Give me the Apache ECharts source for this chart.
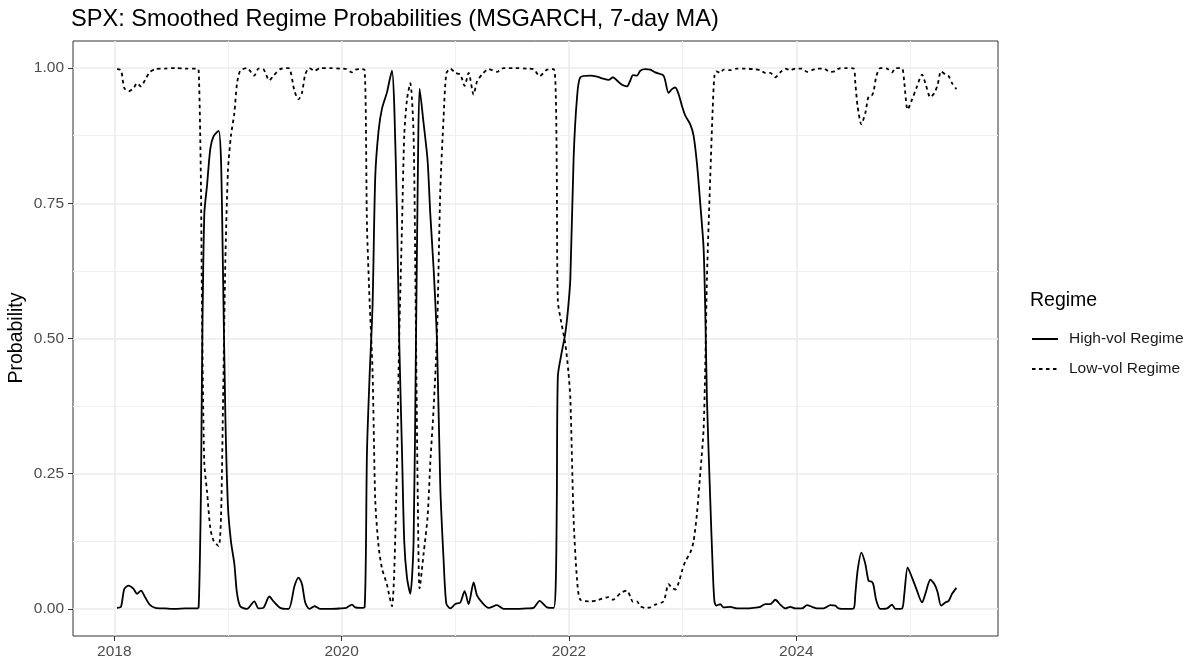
<!DOCTYPE html>
<html>
<head>
<meta charset="utf-8">
<title>SPX regime probabilities</title>
<script src="https://cdn.jsdelivr.net/npm/echarts@6/dist/echarts.min.js"></script>
<style>
    html, body { margin: 0; padding: 0; background: #fff; }
    #main { width: 1195px; height: 664px; }
</style>
</head>
<body>
<div id="main"></div>
<script>
// decimal years
var dates = [
    2018.024, 2018.059, 2018.088, 2018.126, 2018.170, 2018.200, 2018.235, 2018.273, 2018.311, 2018.361,
    2018.449, 2018.537, 2018.625, 2018.728, 2018.742, 2018.754, 2018.763, 2018.774, 2018.792, 2018.816,
    2018.845, 2018.874, 2018.918, 2018.939, 2018.956, 2018.977, 2019.000, 2019.027, 2019.056, 2019.079,
    2019.108, 2019.167, 2019.232, 2019.269, 2019.311, 2019.364, 2019.401, 2019.460, 2019.533, 2019.586,
    2019.621, 2019.651, 2019.680, 2019.716, 2019.762, 2019.812, 2019.900, 2019.988, 2020.041, 2020.091,
    2020.120, 2020.164, 2020.202, 2020.223, 2020.246, 2020.272, 2020.296, 2020.325, 2020.355, 2020.399,
    2020.422, 2020.443, 2020.463, 2020.487, 2020.507, 2020.531, 2020.551, 2020.575, 2020.604, 2020.633,
    2020.654, 2020.672, 2020.686, 2020.721, 2020.756, 2020.780, 2020.809, 2020.839, 2020.868, 2020.897,
    2020.921, 2020.956, 2021.000, 2021.044, 2021.082, 2021.117, 2021.161, 2021.191, 2021.235, 2021.293,
    2021.367, 2021.425, 2021.528, 2021.633, 2021.689, 2021.742, 2021.807, 2021.865, 2021.884, 2021.893,
    2021.902, 2021.932, 2021.968, 2021.994, 2022.012, 2022.041, 2022.071, 2022.100, 2022.188, 2022.247,
    2022.291, 2022.349, 2022.387, 2022.422, 2022.466, 2022.510, 2022.539, 2022.563, 2022.598, 2022.627,
    2022.671, 2022.715, 2022.759, 2022.832, 2022.876, 2022.906, 2022.935, 2022.964, 2022.994, 2023.023,
    2023.067, 2023.096, 2023.126, 2023.155, 2023.184, 2023.199, 2023.214, 2023.243, 2023.264, 2023.279,
    2023.296, 2023.331, 2023.360, 2023.419, 2023.478, 2023.551, 2023.624, 2023.683, 2023.727, 2023.771,
    2023.815, 2023.859, 2023.903, 2023.947, 2023.991, 2024.050, 2024.094, 2024.138, 2024.182, 2024.240,
    2024.299, 2024.343, 2024.372, 2024.440, 2024.504, 2024.519, 2024.539, 2024.572, 2024.607, 2024.636,
    2024.666, 2024.680, 2024.704, 2024.739, 2024.798, 2024.842, 2024.871, 2024.930, 2024.950, 2024.979,
    2025.018, 2025.056, 2025.106, 2025.135, 2025.179, 2025.214, 2025.243, 2025.273, 2025.311, 2025.340,
    2025.370, 2025.408
];
// high-vol regime probability
var highVol = [
    0.002, 0.004, 0.037, 0.043, 0.037, 0.028, 0.034, 0.021, 0.008, 0.002,
    0.001, 0.000, 0.001, 0.001, 0.003, 0.100, 0.226, 0.490, 0.730, 0.783,
    0.851, 0.874, 0.884, 0.830, 0.630, 0.360, 0.190, 0.124, 0.084, 0.030,
    0.005, 0.000, 0.014, 0.001, 0.002, 0.023, 0.014, 0.002, 0.000, 0.043,
    0.058, 0.046, 0.012, 0.000, 0.005, 0.000, 0.000, 0.001, 0.002, 0.008,
    0.003, 0.002, 0.003, 0.290, 0.430, 0.560, 0.800, 0.884, 0.925, 0.955,
    0.978, 0.995, 0.931, 0.730, 0.494, 0.293, 0.124, 0.058, 0.028, 0.124,
    0.494, 0.830, 0.962, 0.898, 0.830, 0.730, 0.630, 0.494, 0.226, 0.091,
    0.010, 0.001, 0.009, 0.012, 0.033, 0.009, 0.049, 0.025, 0.012, 0.002,
    0.007, 0.000, 0.000, 0.001, 0.002, 0.015, 0.003, 0.002, 0.050, 0.200,
    0.430, 0.470, 0.510, 0.560, 0.610, 0.835, 0.946, 0.983, 0.986, 0.984,
    0.981, 0.978, 0.983, 0.977, 0.969, 0.966, 0.977, 0.987, 0.986, 0.995,
    0.998, 0.997, 0.992, 0.986, 0.954, 0.961, 0.964, 0.952, 0.930, 0.912,
    0.896, 0.875, 0.823, 0.749, 0.668, 0.550, 0.385, 0.200, 0.077, 0.015,
    0.006, 0.009, 0.003, 0.004, 0.001, 0.001, 0.002, 0.004, 0.009, 0.009,
    0.017, 0.008, 0.001, 0.004, 0.001, 0.001, 0.007, 0.004, 0.001, 0.001,
    0.007, 0.006, 0.001, 0.000, 0.001, 0.028, 0.071, 0.104, 0.083, 0.052,
    0.050, 0.043, 0.015, 0.000, 0.001, 0.008, 0.000, 0.001, 0.028, 0.077,
    0.058, 0.037, 0.012, 0.028, 0.054, 0.046, 0.031, 0.006, 0.012, 0.015,
    0.028, 0.039
];
// low-vol regime probability
var lowVol = [
    0.998, 0.996, 0.963, 0.957, 0.963, 0.972, 0.966, 0.979, 0.992, 0.998,
    0.999, 1.000, 0.999, 0.999, 0.997, 0.900, 0.774, 0.510, 0.270, 0.217,
    0.149, 0.126, 0.116, 0.170, 0.370, 0.640, 0.810, 0.876, 0.916, 0.970,
    0.995, 1.000, 0.986, 0.999, 0.998, 0.977, 0.986, 0.998, 1.000, 0.957,
    0.942, 0.954, 0.988, 1.000, 0.995, 1.000, 1.000, 0.999, 0.998, 0.992,
    0.997, 0.998, 0.997, 0.710, 0.570, 0.440, 0.200, 0.116, 0.075, 0.045,
    0.022, 0.005, 0.069, 0.270, 0.506, 0.707, 0.876, 0.942, 0.972, 0.876,
    0.506, 0.170, 0.038, 0.102, 0.170, 0.270, 0.370, 0.506, 0.774, 0.909,
    0.990, 0.999, 0.991, 0.988, 0.967, 0.991, 0.951, 0.975, 0.988, 0.998,
    0.993, 1.000, 1.000, 0.999, 0.998, 0.985, 0.997, 0.998, 0.950, 0.800,
    0.570, 0.530, 0.490, 0.440, 0.390, 0.165, 0.054, 0.017, 0.014, 0.016,
    0.019, 0.022, 0.017, 0.023, 0.031, 0.034, 0.023, 0.013, 0.014, 0.005,
    0.002, 0.003, 0.008, 0.014, 0.046, 0.039, 0.036, 0.048, 0.070, 0.088,
    0.104, 0.125, 0.177, 0.251, 0.332, 0.450, 0.615, 0.800, 0.923, 0.985,
    0.994, 0.991, 0.997, 0.996, 0.999, 0.999, 0.998, 0.996, 0.991, 0.991,
    0.983, 0.992, 0.999, 0.996, 0.999, 0.999, 0.993, 0.996, 0.999, 0.999,
    0.993, 0.994, 0.999, 1.000, 0.999, 0.972, 0.929, 0.896, 0.917, 0.948,
    0.950, 0.957, 0.985, 1.000, 0.999, 0.992, 1.000, 0.999, 0.972, 0.923,
    0.942, 0.963, 0.988, 0.972, 0.946, 0.954, 0.969, 0.994, 0.988, 0.985,
    0.972, 0.961
];
var seriesNames = ['High-vol Regime', 'Low-vol Regime'];
var xMajor = [2018, 2020, 2022, 2024];
var xMinor = [2019, 2021, 2023, 2025];
var yMajor = [0, 0.25, 0.5, 0.75, 1];
var yMinor = [0.125, 0.375, 0.625, 0.875];

var FONT = '"Liberation Sans", Arial, Helvetica, sans-serif';

function pairs(xs, ys) {
    var out = [];
    for (var i = 0; i < xs.length; i++) {
        out.push([xs[i], ys[i]]);
    }
    return out;
}

var chart = echarts.init(document.getElementById('main'), null, {renderer: 'canvas'});

// ggplot style 5% expansion around the data
var xMin = 2017.637, xMax = 2025.774;
var yMin = -0.05, yMax = 1.05;

var option = {
    animation: false,
    backgroundColor: '#ffffff',
    textStyle: {fontFamily: FONT},
    title: {
        text: 'SPX: Smoothed Regime Probabilities (MSGARCH, 7-day MA)',
        left: 71,
        top: 7,
        padding: 0,
        textStyle: {fontSize: 23.6, fontWeight: 'normal', color: '#000', fontFamily: FONT}
    },
    grid: {
        left: 73, right: 197, top: 41, bottom: 28,
        show: true,
        backgroundColor: 'transparent',
        borderColor: '#333333',
        borderWidth: 1
    },
    legend: {
        orient: 'vertical',
        left: 1026,
        top: 326,
        itemWidth: 26,
        itemHeight: 14,
        itemGap: 14,
        data: seriesNames,
        itemStyle: {opacity: 0},
        textStyle: {fontSize: 15.5, color: '#1a1a1a', fontFamily: FONT, padding: [0, 0, 0, 6]}
    },
    graphic: [
        {
            type: 'text',
            left: 1030,
            top: 291,
            style: {text: 'Regime', fontSize: 19.5, fill: '#000', fontFamily: FONT}
        },
        {
            type: 'text',
            x: 17,
            y: 338,
            rotation: Math.PI / 2,
            style: {text: 'Probability', fontSize: 19.5, fill: '#000', fontFamily: FONT,
                align: 'center', verticalAlign: 'middle'}
        }
    ],
    xAxis: [
        {
            type: 'value', min: xMin, max: xMax, position: 'bottom',
            axisLine: {show: false, onZero: false},
            axisTick: {show: true, length: 5, lineStyle: {color: '#333333', width: 1}, customValues: xMajor},
            axisLabel: {customValues: xMajor, margin: 8, fontSize: 15.5, color: '#4d4d4d', fontFamily: FONT,
                formatter: function (v) { return String(Math.round(v)); }},
            splitLine: {show: true, lineStyle: {color: '#ebebeb', width: 1.5}}
        },
        {
            type: 'value', min: xMin, max: xMax, position: 'bottom',
            axisLine: {show: false, onZero: false},
            axisTick: {show: false, customValues: xMinor},
            axisLabel: {show: false, customValues: xMinor},
            splitLine: {show: true, lineStyle: {color: '#f0f0f0', width: 1}}
        }
    ],
    yAxis: [
        {
            type: 'value', min: yMin, max: yMax, position: 'left',
            axisLine: {show: false, onZero: false},
            axisTick: {show: true, length: 5, lineStyle: {color: '#333333', width: 1}, customValues: yMajor},
            axisLabel: {customValues: yMajor, margin: 9, fontSize: 15.5, color: '#4d4d4d', fontFamily: FONT,
                formatter: function (v) { return v.toFixed(2); }},
            splitLine: {show: true, lineStyle: {color: '#ebebeb', width: 1.5}}
        },
        {
            type: 'value', min: yMin, max: yMax, position: 'left',
            axisLine: {show: false, onZero: false},
            axisTick: {show: false, customValues: yMinor},
            axisLabel: {show: false, customValues: yMinor},
            splitLine: {show: true, lineStyle: {color: '#f0f0f0', width: 1}}
        }
    ],
    series: [
        {
            name: seriesNames[0],
            type: 'line',
            xAxisIndex: 0, yAxisIndex: 0,
            data: pairs(dates, highVol),
            showSymbol: false,
            symbol: 'none',
            smooth: 0.25,
            lineStyle: {color: '#000', width: 1.8, type: 'solid'},
            itemStyle: {color: '#000'},
            z: 3
        },
        {
            name: seriesNames[1],
            type: 'line',
            xAxisIndex: 0, yAxisIndex: 0,
            data: pairs(dates, lowVol),
            showSymbol: false,
            symbol: 'none',
            smooth: 0.25,
            lineStyle: {color: '#000', width: 1.8, type: [3.5, 3.5]},
            itemStyle: {color: '#000'},
            z: 3
        }
    ]
};

chart.setOption(option);
</script>
</body>
</html>
